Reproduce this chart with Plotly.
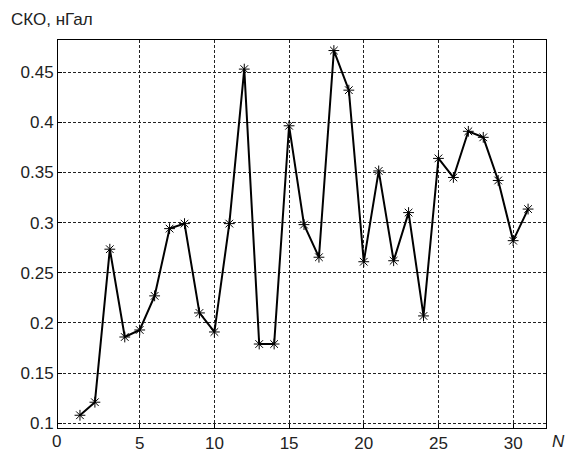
import plotly.graph_objects as go

n_values = list(range(1, 32))
sko_values = [0.108, 0.121, 0.2735, 0.186, 0.193, 0.227, 0.294, 0.299, 0.210, 0.191,
              0.299, 0.453, 0.179, 0.179, 0.3965, 0.298, 0.2655, 0.4715, 0.432, 0.261,
              0.3515, 0.262, 0.310, 0.207, 0.364, 0.345, 0.391, 0.385, 0.342, 0.282, 0.3135]
x_ticks = [0, 5, 10, 15, 20, 25, 30]
y_ticks = [0.1, 0.15, 0.2, 0.25, 0.3, 0.35, 0.4, 0.45]
y_tick_labels = ["0.1", "0.15", "0.2", "0.25", "0.3", "0.35", "0.4", "0.45"]
x_range = [-0.47, 32.2]

fig = go.Figure()
fig.add_trace(go.Scatter(
    x=n_values, y=sko_values, mode="lines+markers",
    line=dict(color="black", width=2),
    marker=dict(symbol="asterisk-open", size=9, color="black",
                line=dict(color="black", width=1)),
    showlegend=False, hoverinfo="skip",
))

font = dict(family="Liberation Sans, Arial, sans-serif", size=17, color="#222")

L, T, R, B = 58, 40, 20, 24
PW, PH = 566 - L - R, 452 - T - B

fig.update_layout(
    width=566, height=452,
    margin=dict(l=L, r=R, t=T, b=B, autoexpand=False),
    paper_bgcolor="white", plot_bgcolor="white",
    font=font,
    xaxis=dict(
        range=x_range, tickvals=x_ticks[1:],
        ticktext=[str(v) for v in x_ticks[1:]],
        showgrid=True, gridcolor="#222", griddash="3px,2px", gridwidth=1,
        showline=True, linecolor="black", linewidth=1, mirror=True,
        ticks="inside", ticklen=4, tickcolor="black",
        zeroline=False, tickfont=font, automargin=False,
    ),
    yaxis=dict(
        range=[0.0953, 0.482], tickvals=y_ticks, ticktext=y_tick_labels,
        showgrid=True, gridcolor="#222", griddash="3px,2px", gridwidth=1,
        showline=True, linecolor="black", linewidth=1, mirror=True,
        ticks="inside", ticklen=4, tickcolor="black",
        zeroline=False, tickfont=font, automargin=False,
    ),
    annotations=[
        dict(text="СКО, нГал", xref="paper", yref="paper", x=-(L - 9) / PW, y=1 + 20 / PH,
             xanchor="left", yanchor="middle", showarrow=False,
             font=dict(family="Liberation Sans, Arial, sans-serif", size=17, color="#222")),
        dict(text="<i>N</i>", xref="paper", yref="paper", x=1 + 12 / PW, y=-13 / PH,
             xanchor="center", yanchor="middle", showarrow=False, font=font),
        dict(text="0", xref="paper", yref="paper",
             x=(-0.56 - x_range[0]) / (x_range[1] - x_range[0]), y=-13 / PH,
             yanchor="middle", xanchor="center", showarrow=False, font=font),
    ],
)

fig.write_html(
    "out.html",
    config={"displayModeBar": False},
    post_script="document.body.style.margin='0';document.body.style.overflow='hidden';",
)
